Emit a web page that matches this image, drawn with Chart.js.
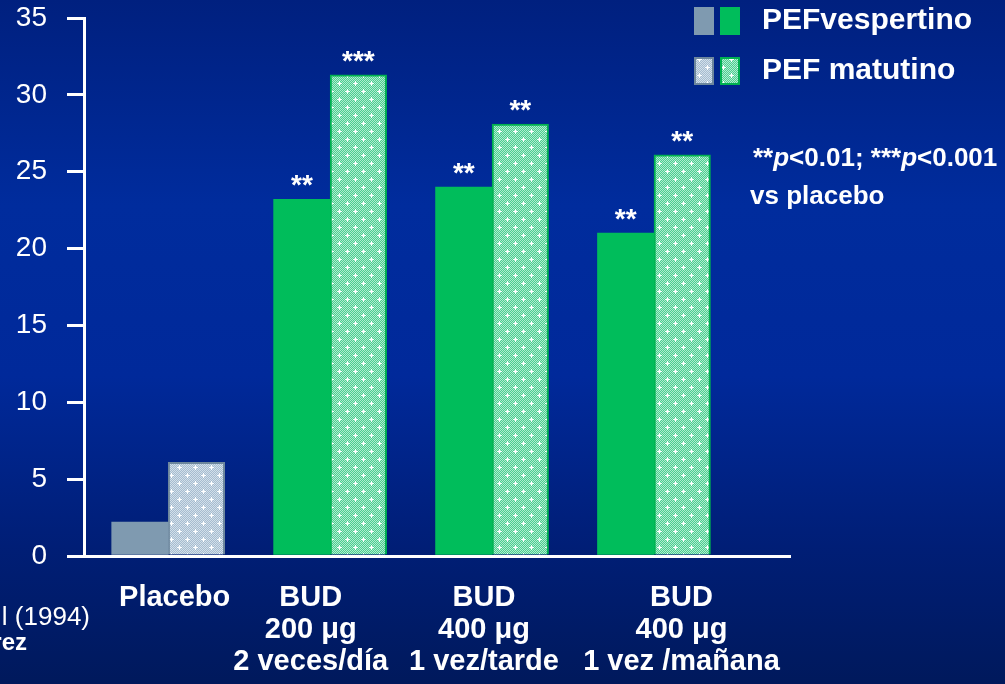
<!DOCTYPE html>
<html>
<head>
<meta charset="utf-8">
<script src="https://cdn.jsdelivr.net/npm/chart.js@4.4.1/dist/chart.umd.min.js"></script>
<style>
  html, body { margin: 0; padding: 0; background: #001e78; }
  canvas { display: block; }
</style>
</head>
<body>
<canvas id="chart" width="1005" height="684"></canvas>
<script>
// Group labels (one array entry per line of the label)
const categories = [
  ['Placebo'],
  ['BUD', '200 μg', '2 veces/día'],
  ['BUD', '400 μg', '1 vez/tarde'],
  ['BUD', '400 μg', '1 vez /mañana']
];
// Increase in PEF (L/min) per treatment group
const pefVespertino = [2.2, 23.2, 24.0, 21.0];
const pefMatutino   = [6.1, 31.3, 28.1, 26.1];
// Significance markers vs placebo
const vespertinoStars = ['', '**', '**', '**'];
const matutinoStars   = ['', '***', '**', '**'];
// Y axis ticks
const yTicks = [0, 5, 10, 15, 20, 25, 30, 35];

const FONT = "'Liberation Sans', Arial, Helvetica, sans-serif";
const GRAY = '#7f9ab0';
const GRAY_EDGE = '#6d879d';
const GREEN = '#00bd5b';
const GREEN_EDGE = '#00b050';
// Horizontal nudge of each group label relative to its bars (axis units)
const LABEL_NUDGE = [0.04, -0.12, -0.05, 0.17];

// Dotted fill with small white crosses, used for the morning series
function makePattern(base, light) {
  const t = document.createElement('canvas');
  t.width = 16; t.height = 16;
  const g = t.getContext('2d');
  g.fillStyle = base;
  g.fillRect(0, 0, 16, 16);
  g.fillStyle = light;
  for (let y = 0; y < 16; y++) {
    for (let x = 0; x < 16; x++) {
      if ((x + y) % 2 === 0) g.fillRect(x, y, 1, 1);
    }
  }
  g.fillStyle = '#ffffff';
  [[3, 3], [11, 11]].forEach(([cx, cy]) => {
    g.fillRect(cx - 2, cy, 5, 1);
    g.fillRect(cx, cy - 2, 1, 5);
  });
  return g.createPattern(t, 'repeat');
}
const grayPattern = makePattern('#a6bccf', '#d2dfea');
const greenPattern = makePattern('#4ccd90', '#aeeecf');

// Page background: vertical blue gradient
const backgroundPlugin = {
  id: 'slideBackground',
  beforeDraw(chart) {
    const { ctx, width, height } = chart;
    const grad = ctx.createLinearGradient(0, 0, 0, height);
    grad.addColorStop(0, '#00207f');
    grad.addColorStop(0.3, '#002c9d');
    grad.addColorStop(0.55, '#00299a');
    grad.addColorStop(0.8, '#001e76');
    grad.addColorStop(1, '#00195c');
    ctx.save();
    ctx.fillStyle = grad;
    ctx.fillRect(0, 0, width, height);
    ctx.restore();
  }
};

// Stars above bars, legend, footnote and source text
const notesPlugin = {
  id: 'notes',
  afterDatasetsDraw(chart) {
    const { ctx } = chart;
    ctx.save();
    ctx.fillStyle = '#ffffff';
    ctx.font = `bold 28px ${FONT}`;
    ctx.textAlign = 'center';
    ctx.textBaseline = 'alphabetic';
    [vespertinoStars, matutinoStars].forEach((stars, di) => {
      const meta = chart.getDatasetMeta(di);
      meta.data.forEach((bar, i) => {
        if (stars[i]) ctx.fillText(stars[i], bar.x, bar.y - 5);
      });
    });
    ctx.restore();
  },
  afterDraw(chart) {
    const { ctx } = chart;
    ctx.save();
    // Legend
    const rows = [
      { label: chart.data.datasets[0].label, y: 7, fills: [GRAY, GREEN], edges: null },
      { label: chart.data.datasets[1].label, y: 57, fills: [grayPattern, greenPattern], edges: [GRAY_EDGE, GREEN_EDGE] }
    ];
    rows.forEach(r => {
      r.fills.forEach((f, k) => {
        const x = 694 + k * 26;
        ctx.fillStyle = f;
        ctx.fillRect(x, r.y, 20, 28);
        if (r.edges) {
          ctx.strokeStyle = r.edges[k];
          ctx.lineWidth = 2;
          ctx.strokeRect(x + 1, r.y + 1, 18, 26);
        }
      });
      ctx.fillStyle = '#ffffff';
      ctx.font = `bold 30px ${FONT}`;
      ctx.textAlign = 'left';
      ctx.textBaseline = 'alphabetic';
      ctx.fillText(r.label, 762, r.y + 22);
    });

    // Significance footnote
    const parts = [
      ['**', 'bold'], ['p', 'italic bold'], ['<0.01; ', 'bold'],
      ['***', 'bold'], ['p', 'italic bold'], ['<0.001', 'bold']
    ];
    let x = 753;
    parts.forEach(([txt, style]) => {
      ctx.font = `${style} 26px ${FONT}`;
      ctx.fillText(txt, x, 166);
      x += ctx.measureText(txt).width;
    });
    ctx.font = `bold 26px ${FONT}`;
    ctx.fillText('vs placebo', 750, 204);

    // Source text at the left edge
    ctx.textAlign = 'right';
    ctx.font = `26px ${FONT}`;
    ctx.fillText('l (1994)', 90, 625);
    ctx.font = `bold 24px ${FONT}`;
    ctx.fillText('rez', 27, 650);
    ctx.restore();
  }
};

const seriesData = (values) => values.map((v, i) => ({ x: i, y: v }));

new Chart(document.getElementById('chart'), {
  type: 'bar',
  data: {
    datasets: [
      {
        label: 'PEFvespertino',
        data: seriesData(pefVespertino),
        backgroundColor: pefVespertino.map((_, i) => i === 0 ? GRAY : GREEN),
        borderWidth: 0,
        barThickness: 56.5
      },
      {
        label: 'PEF matutino',
        data: seriesData(pefMatutino),
        backgroundColor: pefMatutino.map((_, i) => i === 0 ? grayPattern : greenPattern),
        borderColor: pefMatutino.map((_, i) => i === 0 ? GRAY_EDGE : GREEN_EDGE),
        borderWidth: 2,
        borderSkipped: 'bottom',
        barThickness: 56.5
      }
    ]
  },
  options: {
    responsive: false,
    animation: false,
    devicePixelRatio: 1,
    layout: { padding: { top: 18, right: 215, left: 0, bottom: 0 } },
    plugins: {
      legend: { display: false },
      tooltip: { enabled: false }
    },
    scales: {
      x: {
        type: 'linear',
        min: -0.52,
        max: 3.84,
        offset: false,
        afterBuildTicks: (s) => { s.ticks = categories.map((_, i) => ({ value: i + LABEL_NUDGE[i] })); },
        afterFit: (s) => { s.height = 128; s.paddingLeft = 0; s.paddingRight = 0; },
        grid: { display: false, drawTicks: false },
        border: { display: true, color: '#ffffff', width: 3 },
        ticks: {
          color: '#ffffff',
          font: { family: FONT, size: 29, weight: 'bold', lineHeight: 1.1 },
          padding: 26,
          maxRotation: 0,
          autoSkip: false,
          callback: (v, index) => categories[index]
        }
      },
      y: {
        min: 0,
        max: 35,
        afterBuildTicks: (s) => { s.ticks = yTicks.map(v => ({ value: v })); },
        afterFit: (s) => { s.width = 84; s.paddingTop = 0; s.paddingBottom = 0; },
        grid: { drawOnChartArea: false, drawTicks: true, tickLength: 17, lineWidth: 3, color: '#ffffff' },
        border: { display: true, color: '#ffffff', width: 3 },
        ticks: {
          color: '#ffffff',
          font: { family: FONT, size: 28 },
          padding: 20
        }
      }
    }
  },
  plugins: [backgroundPlugin, notesPlugin]
});
</script>
</body>
</html>
